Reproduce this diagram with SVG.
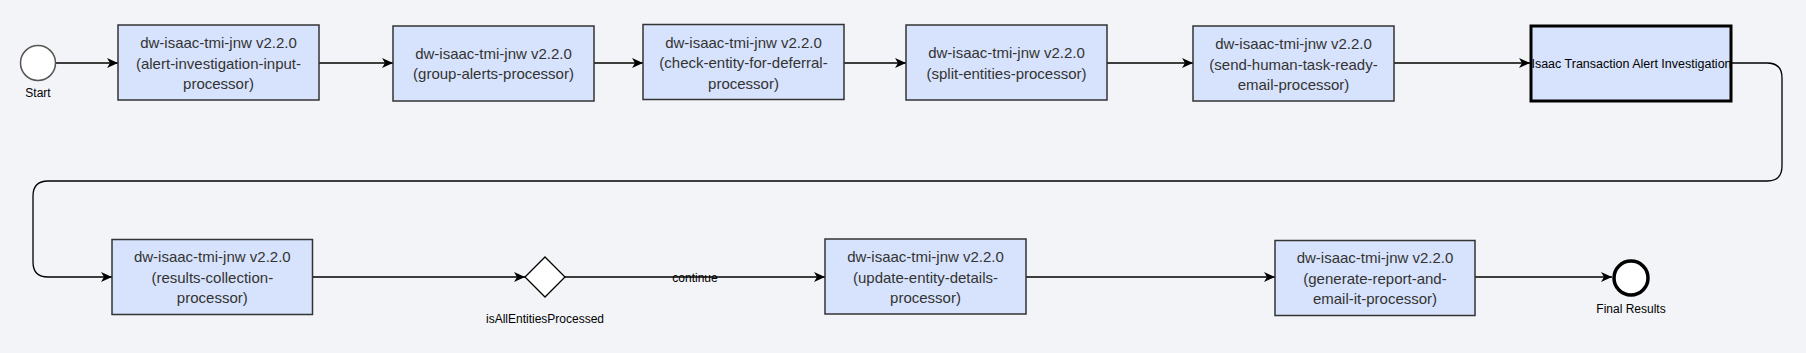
<svg xmlns="http://www.w3.org/2000/svg" width="1806" height="353" viewBox="0 0 1806 353">
<defs>
<style>
.bg{fill:#f3f4f8}
.box{fill:#d7e3fc;stroke:#333;stroke-width:1.5}
.bt{font-family:"Liberation Sans",Arial,sans-serif;font-size:15px;fill:#333;text-anchor:middle}
.lbl{font-family:"Liberation Sans",Arial,sans-serif;font-size:12px;fill:#000;text-anchor:middle}
.edge{fill:none;stroke:#000;stroke-width:1.3}
</style>
<marker id="arr" markerUnits="userSpaceOnUse" markerWidth="12" markerHeight="10" refX="11" refY="5" orient="auto" viewBox="0 0 12 10">
<path d="M0,0 L11,5 L0,10 L3,5 Z" fill="#000"/>
</marker>
</defs>
<rect class="bg" x="0" y="0" width="1806" height="353"/>

<g id="connectors">
<path class="edge" d="M56,63 H118" marker-end="url(#arr)"/>
<path class="edge" d="M319,63 H393" marker-end="url(#arr)"/>
<path class="edge" d="M594,63 H643" marker-end="url(#arr)"/>
<path class="edge" d="M844,63 H906" marker-end="url(#arr)"/>
<path class="edge" d="M1107,63 H1193" marker-end="url(#arr)"/>
<path class="edge" d="M1394,63 H1530" marker-end="url(#arr)"/>
<path class="edge" d="M1732,63 H1767 Q1782,63 1782,78 V166 Q1782,181 1767,181 H48 Q33,181 33,196 V262 Q33,277 48,277 H112" marker-end="url(#arr)"/>
<path class="edge" d="M313,277 H525" marker-end="url(#arr)"/>
<path class="edge" d="M565,277 H825" marker-end="url(#arr)"/>
<text class="lbl" x="695" y="282">continue</text>
<path class="edge" d="M1026,277 H1275" marker-end="url(#arr)"/>
<path class="edge" d="M1475,277 H1612" marker-end="url(#arr)"/>
</g>

<g id="start">
<circle cx="38" cy="63" r="17.5" fill="#fff" stroke="#555" stroke-width="1.5"/>
<text class="lbl" x="38" y="97">Start</text>
</g>

<g id="n1">
<rect class="box" x="118" y="25" width="201" height="75"/>
<text class="bt" x="218.5" y="48">dw-isaac-tmi-jnw v2.2.0</text>
<text class="bt" x="218.5" y="68.5">(alert-investigation-input-</text>
<text class="bt" x="218.5" y="89">processor)</text>
</g>

<g id="n2">
<rect class="box" x="393" y="26" width="201" height="75"/>
<text class="bt" x="493.5" y="58.5">dw-isaac-tmi-jnw v2.2.0</text>
<text class="bt" x="493.5" y="79">(group-alerts-processor)</text>
</g>

<g id="n3">
<rect class="box" x="643" y="24.5" width="201" height="75"/>
<text class="bt" x="743.5" y="47.5">dw-isaac-tmi-jnw v2.2.0</text>
<text class="bt" x="743.5" y="68">(check-entity-for-deferral-</text>
<text class="bt" x="743.5" y="88.5">processor)</text>
</g>

<g id="n4">
<rect class="box" x="906" y="25" width="201" height="75"/>
<text class="bt" x="1006.5" y="58">dw-isaac-tmi-jnw v2.2.0</text>
<text class="bt" x="1006.5" y="78.5">(split-entities-processor)</text>
</g>

<g id="n5">
<rect class="box" x="1193" y="26" width="201" height="75"/>
<text class="bt" x="1293.5" y="49">dw-isaac-tmi-jnw v2.2.0</text>
<text class="bt" x="1293.5" y="69.5">(send-human-task-ready-</text>
<text class="bt" x="1293.5" y="90">email-processor)</text>
</g>

<g id="n6">
<rect x="1531" y="26" width="200" height="75" fill="#d7e3fc" stroke="#000" stroke-width="3"/>
<text class="lbl" x="1631.5" y="67.5" style="font-size:12.5px">Isaac Transaction Alert Investigation</text>
</g>

<g id="n7">
<rect class="box" x="112" y="239.5" width="200.5" height="75"/>
<text class="bt" x="212.3" y="262">dw-isaac-tmi-jnw v2.2.0</text>
<text class="bt" x="212.3" y="282.5">(results-collection-</text>
<text class="bt" x="212.3" y="303">processor)</text>
</g>

<g id="gateway">
<path d="M545,257 L565,277 L545,297 L525,277 Z" fill="#fff" stroke="#000" stroke-width="1.3"/>
<text class="lbl" x="545" y="322.5">isAllEntitiesProcessed</text>
</g>

<g id="n9">
<rect class="box" x="825" y="239" width="201" height="75"/>
<text class="bt" x="925.5" y="262">dw-isaac-tmi-jnw v2.2.0</text>
<text class="bt" x="925.5" y="282.5">(update-entity-details-</text>
<text class="bt" x="925.5" y="303">processor)</text>
</g>

<g id="n8">
<rect class="box" x="1275" y="240.5" width="200" height="75"/>
<text class="bt" x="1375" y="263">dw-isaac-tmi-jnw v2.2.0</text>
<text class="bt" x="1375" y="283.5">(generate-report-and-</text>
<text class="bt" x="1375" y="304">email-it-processor)</text>
</g>

<g id="end">
<circle cx="1631" cy="278" r="17" fill="#fff" stroke="#000" stroke-width="3.5"/>
<text class="lbl" x="1631" y="312.5">Final Results</text>
</g>
</svg>
